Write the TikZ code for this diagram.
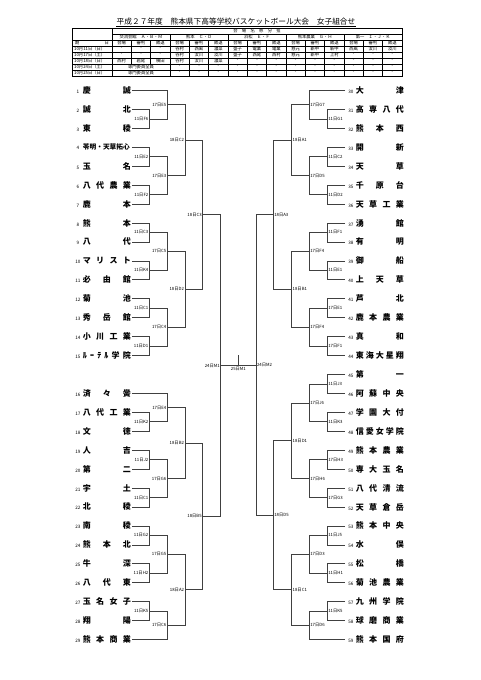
\documentclass[tikz,border=0pt]{standalone}
\usepackage{fontspec}
\setmainfont{Noto Sans CJK JP}
\usetikzlibrary{calc}
\newcommand\hf{\hfill}
\newcommand\numfont{\mdseries\fontsize{4.6}{5}\selectfont}
\newcommand\lteam[4]{\node[team] (#1) at (72,#2) {\makebox[10pt]{\numfont #3}\makebox[48pt][s]{#4}};}
\newcommand\rteam[4]{\node[team] (#1) at (345,#2) {\makebox[10pt]{\numfont #3}\makebox[48pt][s]{#4}};}
\newcommand\mL[5]{\draw[br] (#1) -- (#1 -| #3) -- (#2 -| #3) -- (#2);
  \coordinate (#4) at ($(#1 -| #3)!0.5!(#2 -| #3)$);
  \node[lab, anchor=east] (lb#4) at (#4) {#5};}
\newcommand\mR[5]{\draw[br] (#1) -- (#1 -| #3) -- (#2 -| #3) -- (#2);
  \coordinate (#4) at ($(#1 -| #3)!0.5!(#2 -| #3)$);
  \node[lab, anchor=west] (lb#4) at (#4) {#5};}
\begin{document}
\begin{tikzpicture}[x=1pt,y=-1pt,
  br/.style={line width=0.65pt, draw=black!75},
  lab/.style={font=\fontsize{4.3}{5}\selectfont, inner sep=0.8pt},
  team/.style={font=\bfseries\fontsize{8}{9}\selectfont, inner sep=0.7pt, anchor=west},
  cell/.style={font=\fontsize{4.3}{5}\selectfont, inner sep=0pt},
  grid/.style={line width=0.4pt, draw=black}]
\useasboundingbox (0,0) rectangle (480,680);
% ---------- title ----------
\node[font=\fontsize{7.7}{9}\selectfont, inner sep=0pt] (title) at (236,21.5) {平成２７年度　熊本県下高等学校バスケットボール大会　女子組合せ};
\draw[line width=0.4pt] (title.south west) ++(0,0.8) -- ($(title.south east)+(0,0.8)$);
% ---------- table ----------
\draw[grid] (72,28) rectangle (402,76);
\draw[grid] (112,34) -- (402,34);
\foreach \r in {40,46,52,58,64,70} \draw[grid] (72,\r) -- (402,\r);
\draw[grid] (112,28) -- (112,76);
\foreach \i in {4,7,10,13} \draw[grid] ({112+19.333*(\i-1)},34) -- ({112+19.333*(\i-1)},76);
\foreach \i in {2,3} \draw[grid] ({112+19.333*(\i-1)},40) -- ({112+19.333*(\i-1)},64);
\foreach \i in {5,6,8,9,11,12,14,15} \draw[grid] ({112+19.333*(\i-1)},40) -- ({112+19.333*(\i-1)},76);
\node[cell] (hd) at (257,31) {会　場　名　称　分　担};
\node[cell] (v1) at (141,37) {交流会館　Ａ・Ｂ・Ｍ};
\node[cell] (v2) at (199,37) {熊本　Ｃ・Ｄ};
\node[cell] (v3) at (257,37) {浜松　Ｅ・Ｆ};
\node[cell] (v4) at (315,37) {熊本農業　Ｇ・Ｈ};
\node[cell] (v5) at (373,37) {第一　Ｉ・Ｊ・Ｋ};
\node[cell] (kd) at (92,43) {\makebox[34pt][s]{期\hfill 日}};
\foreach \t [count=\i] in {会場,審判,敗退,会場,審判,敗退,会場,審判,敗退,会場,審判,敗退,会場,審判,敗退}
  \node[cell] (h\i) at ({102.33+19.333*\i},43) {\t};
\node[cell,anchor=west] (d1) at (74,49) {10月11日（日）};
\node[cell,anchor=west] (d2) at (74,55) {10月17日（土）};
\node[cell,anchor=west] (d3) at (74,61) {10月18日（日）};
\node[cell,anchor=west] (d4) at (74,67) {10月24日（土）};
\node[cell,anchor=west] (d5) at (74,73) {10月25日（日）};
\foreach \t [count=\i] in {-,-,-,谷村,西風,濃菜,盛子,電業,電業,慈元,新中,新中,西風,汝川,汝川}
  \node[cell] (ra\i) at ({102.33+19.333*\i},49) {\t};
\foreach \t [count=\i] in {-,-,-,谷村,汝川,汝川,盛子,西尾,西村,慈元,新中,上村,-,-,-}
  \node[cell] (rb\i) at ({102.33+19.333*\i},55) {\t};
\foreach \t [count=\i] in {西村,岩尾,横田,谷村,汝川,濃菜,-,-,-,-,-,-,-,-,-}
  \node[cell] (rc\i) at ({102.33+19.333*\i},61) {\t};
\foreach \t [count=\i] in {-,-,-,-,-,-,-,-,-,-,-,-}
  \node[cell] (rd\i) at ({160.33+19.333*\i},67) {\t};
\foreach \t [count=\i] in {-,-,-,-,-,-,-,-,-,-,-,-}
  \node[cell] (re\i) at ({160.33+19.333*\i},73) {\t};
\node[cell] (s1) at (141,67) {専門委員全員};
\node[cell] (s2) at (141,73) {専門委員全員};
% ---------- level coordinates ----------
\coordinate (vL1) at (149.3,0); \coordinate (vL2) at (167.3,0);
\coordinate (vL3) at (185,0);   \coordinate (vL4) at (202.7,0);
\coordinate (vL5) at (220.7,0);
\coordinate (vR1) at (327.3,0); \coordinate (vR2) at (309.3,0);
\coordinate (vR3) at (291.7,0); \coordinate (vR4) at (273.3,0);
\coordinate (vR5) at (256,0);
% ---------- left teams ----------
\lteam{L1}{90.5}{1}{慶\hf 誠}
\lteam{L2}{109.43}{2}{誠\hf 北}
\lteam{L3}{128.36}{3}{東\hf 稜}
\lteam{L4}{147.29}{4}{\fontsize{6.7}{8}\selectfont 苓明・天草拓心}
\lteam{L5}{166.22}{5}{玉\hf 名}
\lteam{L6}{185.15}{6}{八\hf 代\hf 農\hf 業}
\lteam{L7}{204.08}{7}{鹿\hf 本}
\lteam{L8}{223.01}{8}{熊\hf 本}
\lteam{L9}{241.94}{9}{八\hf 代}
\lteam{L10}{260.87}{10}{マ\hf リ\hf ス\hf ト}
\lteam{L11}{279.8}{11}{必\hf 由\hf 館}
\lteam{L12}{298.73}{12}{菊\hf 池}
\lteam{L13}{317.66}{13}{秀\hf 岳\hf 館}
\lteam{L14}{336.59}{14}{小\hf 川\hf 工\hf 業}
\lteam{L15}{355.52}{15}{ﾙ\hf ｰ\hf ﾃ\hf ﾙ\hf 学\hf 院}
\lteam{L16}{393.38}{16}{済\hf 々\hf 黌}
\lteam{L17}{412.31}{17}{八\hf 代\hf 工\hf 業}
\lteam{L18}{431.24}{18}{文\hf 徳}
\lteam{L19}{450.17}{19}{人\hf 吉}
\lteam{L20}{469.1}{20}{第\hf 二}
\lteam{L21}{488.03}{21}{宇\hf 土}
\lteam{L22}{506.96}{22}{北\hf 稜}
\lteam{L23}{525.89}{23}{南\hf 稜}
\lteam{L24}{544.82}{24}{熊\hf 本\hf 北}
\lteam{L25}{563.75}{25}{牛\hf 深}
\lteam{L26}{582.68}{26}{八\hf 代\hf 東}
\lteam{L27}{601.61}{27}{玉\hf 名\hf 女\hf 子}
\lteam{L28}{620.54}{28}{翔\hf 陽}
\lteam{L29}{639.47}{29}{熊\hf 本\hf 商\hf 業}
% ---------- right teams ----------
\rteam{R30}{90.5}{30}{大\hf 津}
\rteam{R31}{109.43}{31}{高\hf 専\hf 八\hf 代}
\rteam{R32}{128.36}{32}{熊\hf 本\hf 西}
\rteam{R33}{147.29}{33}{開\hf 新}
\rteam{R34}{166.22}{34}{天\hf 草}
\rteam{R35}{185.15}{35}{千\hf 原\hf 台}
\rteam{R36}{204.08}{36}{天\hf 草\hf 工\hf 業}
\rteam{R37}{223.01}{37}{湧\hf 館}
\rteam{R38}{241.94}{38}{有\hf 明}
\rteam{R39}{260.87}{39}{御\hf 船}
\rteam{R40}{279.8}{40}{上\hf 天\hf 草}
\rteam{R41}{298.73}{41}{芦\hf 北}
\rteam{R42}{317.66}{42}{鹿\hf 本\hf 農\hf 業}
\rteam{R43}{336.59}{43}{真\hf 和}
\rteam{R44}{355.52}{44}{東\hf 海\hf 大\hf 星\hf 翔}
\rteam{R45}{374.45}{45}{第\hf 一}
\rteam{R46}{393.38}{46}{阿\hf 蘇\hf 中\hf 央}
\rteam{R47}{412.31}{47}{学\hf 園\hf 大\hf 付}
\rteam{R48}{431.24}{48}{信\hf 愛\hf 女\hf 学\hf 院}
\rteam{R49}{450.17}{49}{熊\hf 本\hf 農\hf 業}
\rteam{R50}{469.1}{50}{専\hf 大\hf 玉\hf 名}
\rteam{R51}{488.03}{51}{八\hf 代\hf 清\hf 流}
\rteam{R52}{506.96}{52}{天\hf 草\hf 倉\hf 岳}
\rteam{R53}{525.89}{53}{熊\hf 本\hf 中\hf 央}
\rteam{R54}{544.82}{54}{水\hf 俣}
\rteam{R55}{563.75}{55}{松\hf 橋}
\rteam{R56}{582.68}{56}{菊\hf 池\hf 農\hf 業}
\rteam{R57}{601.61}{57}{九\hf 州\hf 学\hf 院}
\rteam{R58}{620.54}{58}{球\hf 磨\hf 商\hf 業}
\rteam{R59}{639.47}{59}{熊\hf 本\hf 国\hf 府}
% ---------- left bracket ----------
\mL{L2}{L3}{vL1}{a1}{11日F6}
\mL{L1}{a1}{vL2}{a2}{17日E5}
\mL{L4}{L5}{vL1}{a3}{11日E2}
\mL{L6}{L7}{vL1}{a4}{11日F2}
\mL{a3}{a4}{vL2}{a5}{17日E3}
\mL{a2}{a5}{vL3}{a6}{18日C2}
\mL{L8}{L9}{vL1}{a7}{11日C3}
\mL{L10}{L11}{vL1}{a8}{11日K4}
\mL{a7}{a8}{vL2}{a9}{17日C5}
\mL{L12}{L13}{vL1}{a10}{11日C1}
\mL{L14}{L15}{vL1}{a11}{11日D1}
\mL{a10}{a11}{vL2}{a12}{17日C4}
\mL{a9}{a12}{vL3}{a13}{18日D2}
\mL{a6}{a13}{vL4}{a14}{18日C3}
\mL{L17}{L18}{vL1}{b1}{11日K2}
\mL{L16}{b1}{vL2}{b2}{17日E4}
\mL{L19}{L20}{vL1}{b3}{11日J2}
\mL{L21}{L22}{vL1}{b4}{11日C1}
\mL{b3}{b4}{vL2}{b5}{17日G6}
\mL{b2}{b5}{vL3}{b6}{18日B2}
\mL{L23}{L24}{vL1}{b7}{11日G2}
\mL{L25}{L26}{vL1}{b8}{11日H2}
\mL{b7}{b8}{vL2}{b9}{17日G5}
\mL{L27}{L28}{vL1}{b10}{11日K5}
\mL{b10}{L29}{vL2}{b11}{17日C6}
\mL{b9}{b11}{vL3}{b12}{18日A2}
\mL{b6}{b12}{vL4}{b13}{18日B5}
\mL{a14}{b13}{vL5}{fL}{24日M1}
% ---------- right bracket ----------
\mR{R31}{R32}{vR1}{c1}{11日G1}
\mR{R30}{c1}{vR2}{c2}{17日G7}
\mR{R33}{R34}{vR1}{c3}{11日C2}
\mR{R35}{R36}{vR1}{c4}{11日D2}
\mR{c3}{c4}{vR2}{c5}{17日D5}
\mR{c2}{c5}{vR3}{c6}{18日A1}
\mR{R37}{R38}{vR1}{c7}{11日F1}
\mR{R39}{R40}{vR1}{c8}{11日E1}
\mR{c7}{c8}{vR2}{c9}{17日F4}
\mR{R41}{R42}{vR1}{c10}{17日E1}
\mR{R43}{R44}{vR1}{c11}{17日F1}
\mR{c10}{c11}{vR2}{c12}{17日F4}
\mR{c9}{c12}{vR3}{c13}{18日B1}
\mR{c6}{c13}{vR4}{c14}{18日A3}
\mR{R45}{R46}{vR1}{d1}{11日J3}
\mR{R47}{R48}{vR1}{d2}{11日K3}
\mR{d1}{d2}{vR2}{d3}{17日J6}
\mR{R49}{R50}{vR1}{d4}{17日H3}
\mR{R51}{R52}{vR1}{d5}{17日G3}
\mR{d4}{d5}{vR2}{d6}{17日H6}
\mR{d3}{d6}{vR3}{d7}{18日D1}
\mR{R53}{R54}{vR1}{d8}{11日J5}
\mR{R55}{R56}{vR1}{d9}{11日H1}
\mR{d8}{d9}{vR2}{d10}{17日D3}
\mR{R57}{R58}{vR1}{d11}{11日K5}
\mR{d11}{R59}{vR2}{d12}{17日D6}
\mR{d10}{d12}{vR3}{d13}{18日C1}
\mR{d7}{d13}{vR4}{d14}{18日D5}
\mR{c14}{d14}{vR5}{fR}{24日M2}
% ---------- final ----------
\draw[br] (fL) -- (fL -| fR);
\coordinate (fm) at ($(fL)!0.5!(fL -| fR)$);
\coordinate (ft) at ($(fm)+(0,-11)$);
\draw[br] (fm) -- (ft);
\node[lab, anchor=north] (lfin) at ($(fm)+(0,1)$) {25日M1};
\end{tikzpicture}
\end{document}
